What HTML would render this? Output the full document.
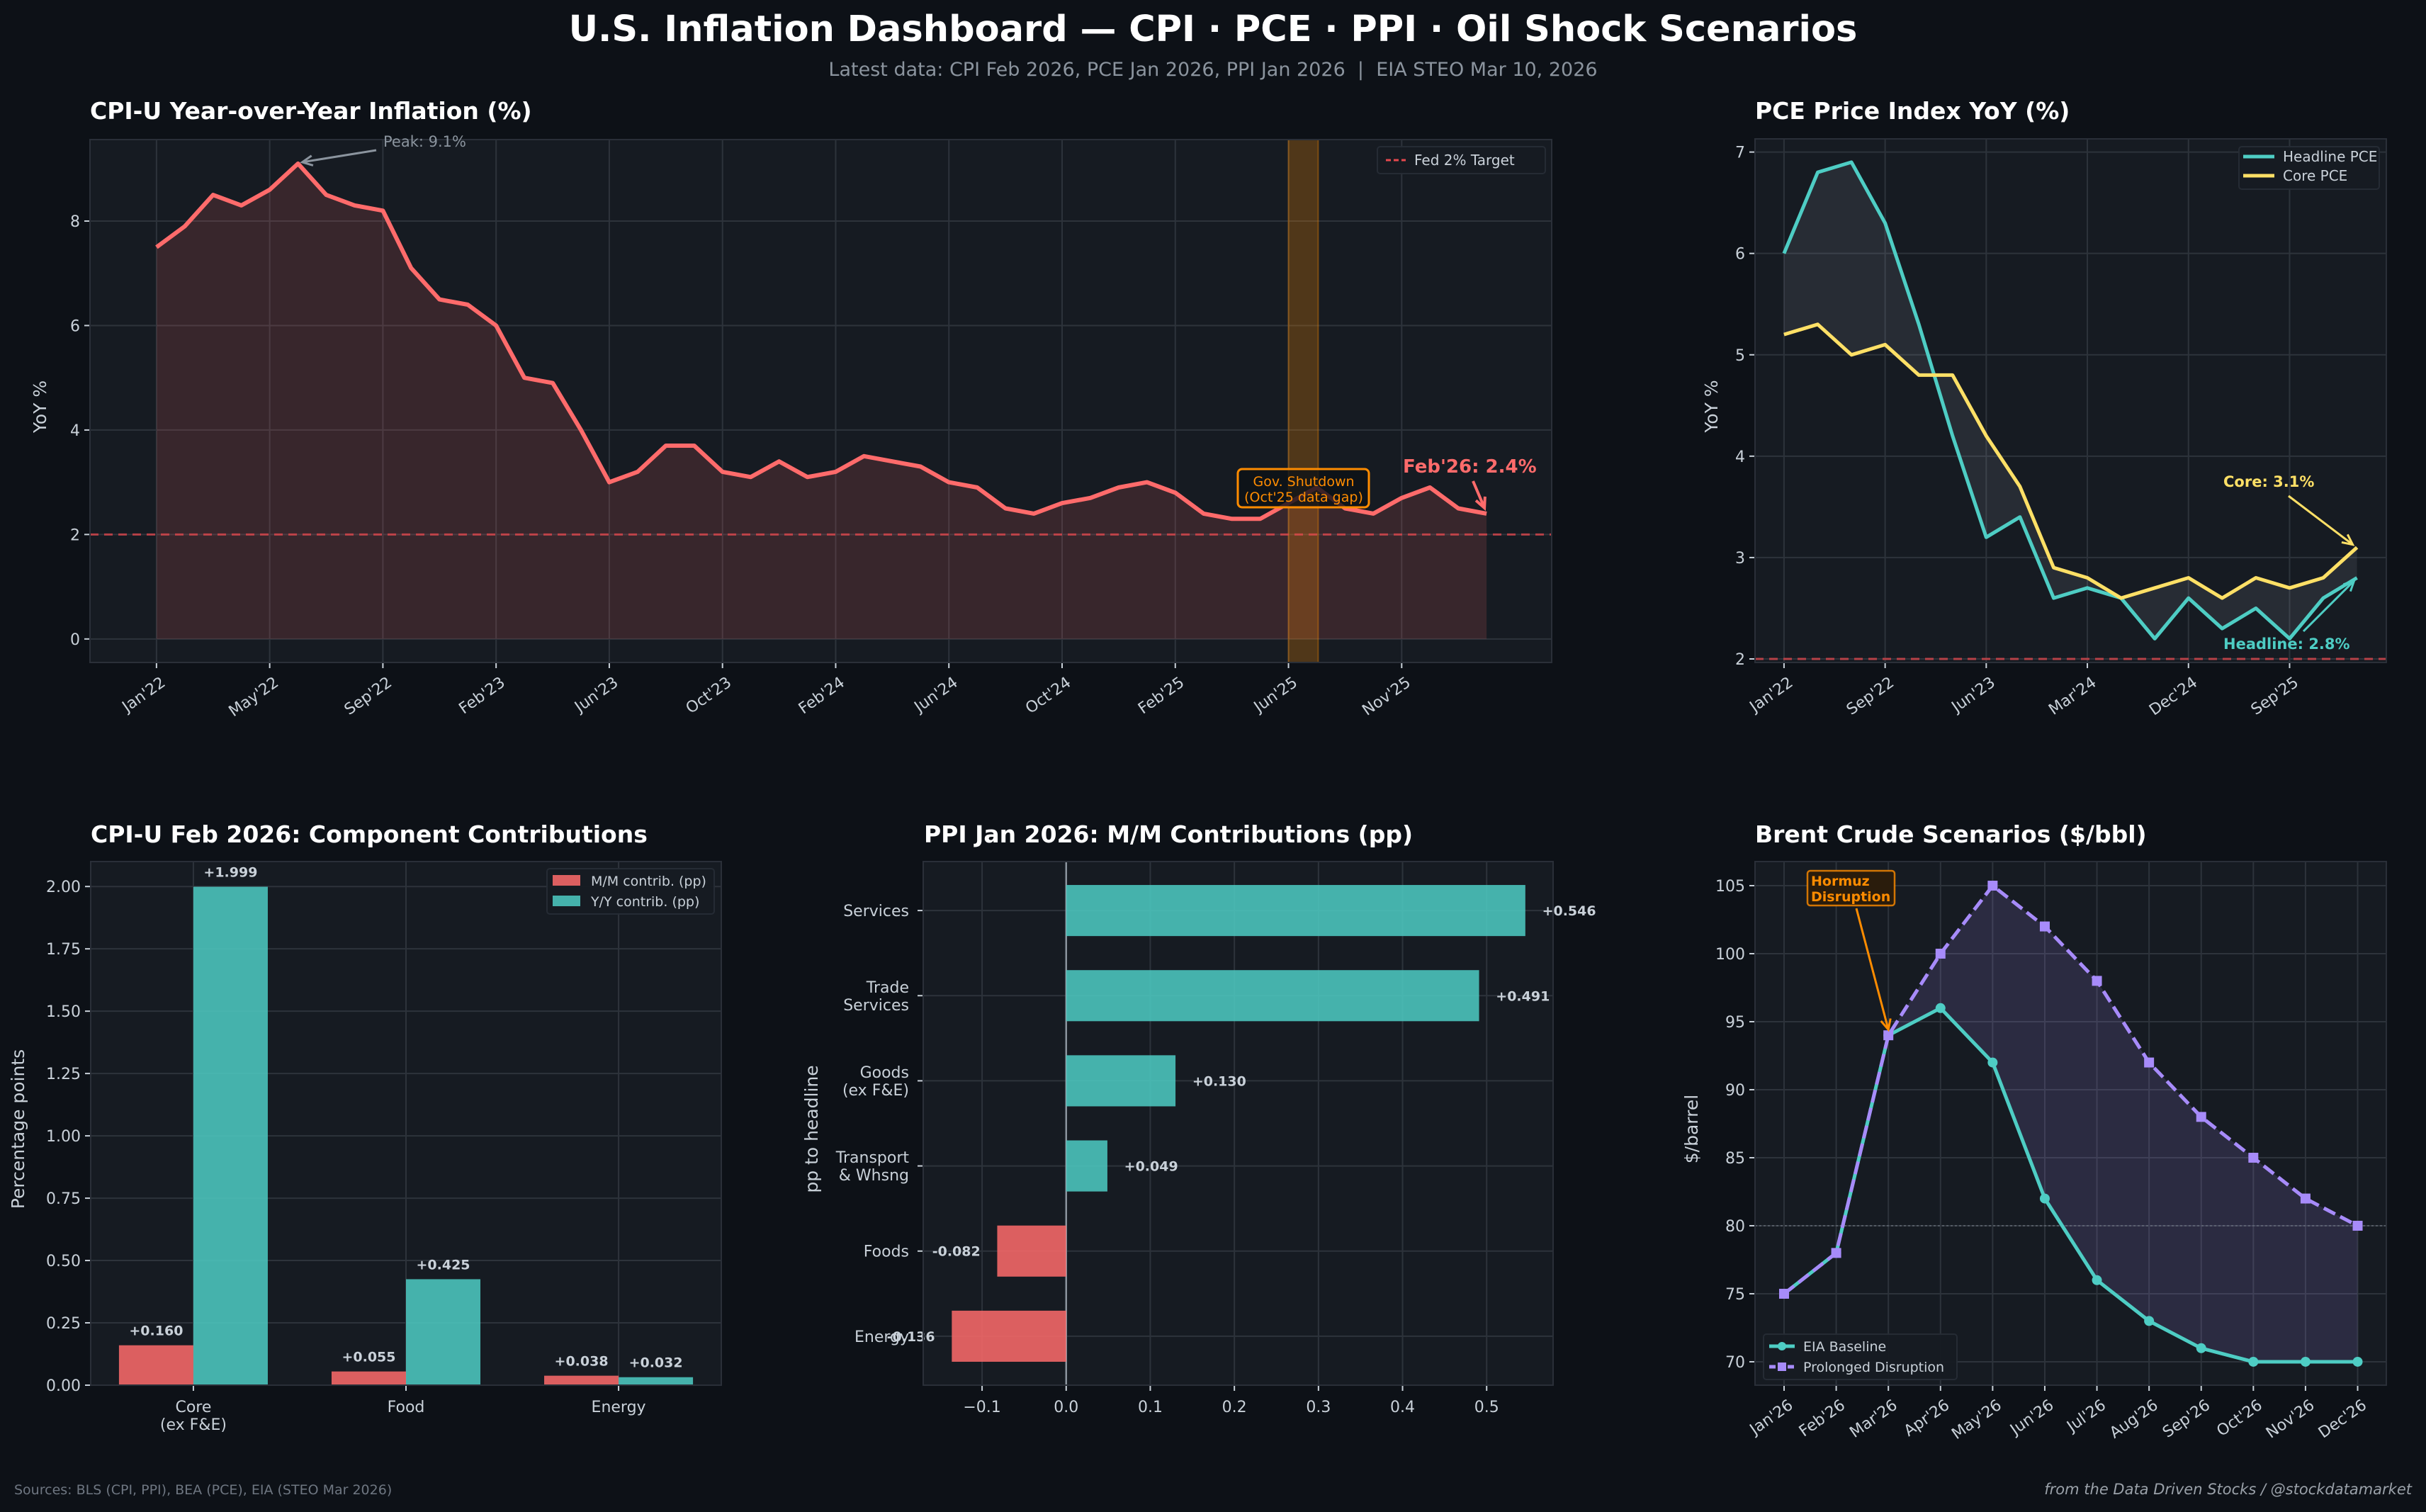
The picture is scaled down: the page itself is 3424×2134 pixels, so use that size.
<!DOCTYPE html>
<html><head><meta charset="utf-8"><title>U.S. Inflation Dashboard</title>
<style>
html,body{margin:0;padding:0;background:#0d1117;}
svg{display:block;font-family:"DejaVu Sans","Liberation Sans",sans-serif;}
</style></head>
<body>
<svg id="root" xmlns="http://www.w3.org/2000/svg" width="3424" height="2134" viewBox="0 0 3424 2134">
<rect x="0" y="0" width="3424" height="2134" fill="#0d1117"/>
<text x="1712" y="58" text-anchor="middle" font-size="51" font-weight="bold" fill="#ffffff">U.S. Inflation Dashboard — CPI · PCE · PPI · Oil Shock Scenarios</text>
<text x="1712" y="107" text-anchor="middle" font-size="27" fill="#8b949e">Latest data: CPI Feb 2026, PCE Jan 2026, PPI Jan 2026 &#160;|&#160; EIA STEO Mar 10, 2026</text>
<text x="20" y="2109" font-size="19" fill="#6e7681">Sources: BLS (CPI, PPI), BEA (PCE), EIA (STEO Mar 2026)</text>
<text x="3404" y="2109" text-anchor="end" font-size="21" font-style="italic" fill="#9aa1a9">from the Data Driven Stocks / @stockdatamarket</text>
<text x="127" y="168" font-size="33" font-weight="bold" fill="#ffffff">CPI-U Year-over-Year Inflation (%)</text>
<text x="2477" y="168" font-size="33" font-weight="bold" fill="#ffffff">PCE Price Index YoY (%)</text>
<text x="128" y="1189" font-size="33" font-weight="bold" fill="#ffffff">CPI-U Feb 2026: Component Contributions</text>
<text x="1304" y="1189" font-size="33" font-weight="bold" fill="#ffffff">PPI Jan 2026: M/M Contributions (pp)</text>
<text x="2477" y="1189" font-size="33" font-weight="bold" fill="#ffffff">Brent Crude Scenarios ($/bbl)</text>
</svg>
<script>
// ---------- DATA ----------
const cpiTickLabels = ["Jan'22","May'22","Sep'22","Feb'23","Jun'23","Oct'23","Feb'24","Jun'24","Oct'24","Feb'25","Jun'25","Nov'25"];
const cpiValues = [7.5,7.9,8.5,8.3,8.6,9.1,8.5,8.3,8.2,7.1,6.5,6.4,6.0,5.0,4.9,4.0,3.0,3.2,3.7,3.7,3.2,3.1,3.4,3.1,3.2,3.5,3.4,3.3,3.0,2.9,2.5,2.4,2.6,2.7,2.9,3.0,2.8,2.4,2.3,2.3,2.6,2.9,2.5,2.4,2.7,2.9,2.5,2.4];
const cpiYTicks = [0,2,4,6,8];
const fedTarget = 2;

const pceTickLabels = ["Jan'22","Sep'22","Jun'23","Mar'24","Dec'24","Sep'25"];
const pceHeadline = [6.0,6.8,6.9,6.3,5.3,4.2,3.2,3.4,2.6,2.7,2.6,2.2,2.6,2.3,2.5,2.2,2.6,2.8];
const pceCore = [5.2,5.3,5.0,5.1,4.8,4.8,4.2,3.7,2.9,2.8,2.6,2.7,2.8,2.6,2.8,2.7,2.8,3.1];
const pceYTicks = [2,3,4,5,6,7];

const compCategories = [["Core","(ex F&E)"],["Food"],["Energy"]];
const compMM = [0.160,0.055,0.038];
const compYY = [1.999,0.425,0.032];
const compYTicks = [0,0.25,0.5,0.75,1.0,1.25,1.5,1.75,2.0];

const ppiCategories = [["Energy"],["Foods"],["Transport","& Whsng"],["Goods","(ex F&E)"],["Trade","Services"],["Services"]];
const ppiValues = [-0.136,-0.082,0.049,0.130,0.491,0.546];
const ppiXTicks = [-0.1,0,0.1,0.2,0.3,0.4,0.5];

const brentMonths = ["Jan'26","Feb'26","Mar'26","Apr'26","May'26","Jun'26","Jul'26","Aug'26","Sep'26","Oct'26","Nov'26","Dec'26"];
const brentBaseline = [75,78,94,96,92,82,76,73,71,70,70,70];
const brentDisruption = [75,78,94,100,105,102,98,92,88,85,82,80];
const brentYTicks = [70,75,80,85,90,95,100,105];

// ---------- HELPERS ----------
const NS = "http://www.w3.org/2000/svg";
const root = document.getElementById('root');
function mk(tag, attrs, parent) {
  const e = document.createElementNS(NS, tag);
  for (const k in attrs) e.setAttribute(k, attrs[k]);
  (parent || root).appendChild(e);
  return e;
}
function axis(L,R,T,B,x0,x1,y0,y1){
  return {L,R,T,B,sx:v=>L+(v-x0)/(x1-x0)*(R-L),sy:v=>B-(v-y0)/(y1-y0)*(B-T)};
}
const GRID = "#2d333b", TICK = "#c9d1d9", FS = 22;
function frame(a, name){
  const r = mk('rect',{x:a.L,y:a.T,width:a.R-a.L,height:a.B-a.T,fill:'#161b22'});
  
  
}
function border(a, name){
  const r = mk('rect',{x:a.L,y:a.T,width:a.R-a.L,height:a.B-a.T,fill:'none',stroke:'#2a2f38','stroke-width':2});
  
  
}
function yGrid(a, ticks, fmt, name){
  ticks.forEach(v=>{
    const y=a.sy(v);
    const g=mk('line',{x1:a.L,x2:a.R,y1:y,y2:y,stroke:GRID,'stroke-width':2});
    
    
    mk('line',{x1:a.L-8,x2:a.L,y1:y,y2:y,stroke:TICK,'stroke-width':2});
    const t=mk('text',{x:a.L-14,y:y+8,'text-anchor':'end','font-size':FS,fill:TICK});
    t.textContent=fmt(v);
    
    
  });
}
function xGridRot(a, positions, labels, name){
  positions.forEach((x,i)=>{
    const g=mk('line',{x1:x,x2:x,y1:a.T,y2:a.B,stroke:GRID,'stroke-width':2});
    
    
    mk('line',{x1:x,x2:x,y1:a.B,y2:a.B+8,stroke:TICK,'stroke-width':2});
    const ty=a.B+20;
    const t=mk('text',{x:x+6,y:ty+14,'text-anchor':'end','font-size':FS,fill:TICK,transform:`rotate(-35 ${x+6} ${ty})`});
    t.textContent=labels[i];
    
    
  });
}
function yLabel(x, yc, txt, name){
  const t=mk('text',{x:x,y:yc,'text-anchor':'middle','font-size':25,fill:'#c9d1d9',transform:`rotate(-90 ${x} ${yc})`});
  t.textContent=txt;
  
  
}
function path(pts){return pts.map((p,i)=>(i?'L':'M')+p[0].toFixed(1)+','+p[1].toFixed(1)).join(' ');}
function arrow(x1,y1,x2,y2,color,w,name){
  const ln=mk('line',{x1,y1,x2,y2,stroke:color,'stroke-width':w});
  
  
  const ang=Math.atan2(y2-y1,x2-x1), L=16, S=0.45;
  const p1=[x2-L*Math.cos(ang-S),y2-L*Math.sin(ang-S)], p2=[x2-L*Math.cos(ang+S),y2-L*Math.sin(ang+S)];
  mk('polyline',{points:`${p1} ${x2},${y2} ${p2}`,fill:'none',stroke:color,'stroke-width':w});
}
function legendBox(x,y,w,h,name){
  const r=mk('rect',{x,y,width:w,height:h,rx:4,fill:'#161b22',stroke:'#262c35','stroke-width':2,opacity:0.95});
  
  
}
function txt(x,y,s,attrs,name){
  const t=mk('text',Object.assign({x,y},attrs));
  t.textContent=s;
  
  
  return t;
}

// ---------- CPI PANEL ----------
(function(){
  const a=axis(127,2190,197,935,-2.35,49.3,-0.45,9.56);
  frame(a,'cpi');
  xGridRot(a, cpiTickLabels.map((_,i)=>a.sx(i*4)), cpiTickLabels, 'cpi');
  yGrid(a, cpiYTicks, v=>String(v), 'cpi');
  const pts=cpiValues.map((v,i)=>[a.sx(i),a.sy(v)]);
  const fill=mk('path',{d:path(pts)+` L${a.sx(cpiValues.length-1)},${a.sy(0)} L${a.sx(0)},${a.sy(0)} Z`,fill:'#ff6b6b','fill-opacity':0.15});
  
  
  const band=mk('rect',{x:a.sx(40),y:a.T,width:a.sx(41.05)-a.sx(40),height:a.B-a.T,fill:'#ff8c00','fill-opacity':0.25,stroke:'#ff8c00','stroke-opacity':0.35,'stroke-width':2});
  
  
  const fed=mk('line',{x1:a.L,x2:a.R,y1:a.sy(fedTarget),y2:a.sy(fedTarget),stroke:'#e5484d','stroke-opacity':0.75,'stroke-width':3,'stroke-dasharray':'12 8'});
  
  
  const line=mk('path',{d:path(pts),fill:'none',stroke:'#ff6b6b','stroke-width':6,'stroke-linejoin':'round'});
  
  
  border(a,'cpi');
  yLabel(65, (a.T+a.B)/2+8, 'YoY %', 'cpi-y-axis-title');
  const pk=cpiValues.indexOf(Math.max(...cpiValues));
  arrow(531,212,a.sx(pk)+6,a.sy(cpiValues[pk])-2,'#8b949e',3,'peak-arrow');
  txt(541,207,'Peak: '+Math.max(...cpiValues)+'%',{'font-size':21,fill:'#8b949e'},'peak-annotation');
  const sb=mk('rect',{x:1747,y:662,width:185,height:54,rx:6,fill:'#0d1117','fill-opacity':0.8,stroke:'#ff8c00','stroke-width':3});
  
  
  txt(1840,686,'Gov. Shutdown',{'font-size':19,fill:'#ff8c00','text-anchor':'middle'},'shutdown-annotation-line1');
  txt(1840,708,"(Oct'25 data gap)",{'font-size':19,fill:'#ff8c00','text-anchor':'middle'},'shutdown-annotation-line2');
  const li=cpiValues.length-1;
  arrow(2079,679,a.sx(li)-3,a.sy(cpiValues[li])-8,'#ff6b6b',4,'latest-cpi-arrow');
  txt(1980,667,"Feb'26: "+cpiValues[li]+'%',{'font-size':26,'font-weight':'bold',fill:'#ff6b6b'},'latest-cpi-annotation');
  legendBox(1944,207,237,38,'cpi-legend');
  const ll=mk('line',{x1:1956,x2:1984,y1:226,y2:226,stroke:'#e5484d','stroke-width':3,'stroke-dasharray':'7 4'});
  
  
  txt(1996,233,'Fed 2% Target',{'font-size':20,fill:'#c9d1d9'},'legend-fed-target');
})();

// ---------- PCE PANEL ----------
(function(){
  const a=axis(2477,3368,196,935,-0.86,17.87,1.965,7.13);
  frame(a,'pce');
  xGridRot(a, pceTickLabels.map((_,i)=>a.sx(i*3)), pceTickLabels, 'pce');
  yGrid(a, pceYTicks, v=>String(v), 'pce');
  const h=pceHeadline.map((v,i)=>[a.sx(i),a.sy(v)]);
  const c=pceCore.map((v,i)=>[a.sx(i),a.sy(v)]);
  const f=mk('path',{d:path(h)+' '+path(c.slice().reverse()).replace('M','L')+' Z',fill:'#8b949e','fill-opacity':0.15});
  
  
  const fed=mk('line',{x1:a.L,x2:a.R,y1:a.sy(2),y2:a.sy(2),stroke:'#e5484d','stroke-opacity':0.75,'stroke-width':3,'stroke-dasharray':'12 8'});
  
  
  const hl=mk('path',{d:path(h),fill:'none',stroke:'#4ecdc4','stroke-width':5,'stroke-linejoin':'round'});
  
  
  const cl=mk('path',{d:path(c),fill:'none',stroke:'#ffe066','stroke-width':5,'stroke-linejoin':'round'});
  
  
  border(a,'pce');
  yLabel(2424,(a.T+a.B)/2+8,'YoY %','pce-y-axis-title');
  const n=pceCore.length-1;
  arrow(3230,700,a.sx(n)-6,a.sy(pceCore[n])-4,'#ffe066',3,'core-pce-arrow');
  txt(3138,687,'Core: '+pceCore[n].toFixed(1)+'%',{'font-size':21,'font-weight':'bold',fill:'#ffe066'},'core-pce-annotation');
  arrow(3251,891,a.sx(n)-4,a.sy(pceHeadline[n])+4,'#4ecdc4',3,'headline-pce-arrow');
  txt(3138,916,'Headline: '+pceHeadline[n].toFixed(1)+'%',{'font-size':21,'font-weight':'bold',fill:'#4ecdc4'},'headline-pce-annotation');
  legendBox(3160,207,198,60,'pce-legend');
  mk('line',{x1:3166,x2:3210,y1:221,y2:221,stroke:'#4ecdc4','stroke-width':5});
  txt(3222,228,'Headline PCE',{'font-size':20,fill:'#c9d1d9'},'legend-headline-pce');
  mk('line',{x1:3166,x2:3210,y1:248,y2:248,stroke:'#ffe066','stroke-width':5});
  txt(3222,255,'Core PCE',{'font-size':20,fill:'#c9d1d9'},'legend-core-pce');
})();

// ---------- COMPONENTS BAR PANEL ----------
(function(){
  const a=axis(128,1018,1216,1955,-0.483,2.483,0,2.1);
  frame(a,'components');
  compCategories.forEach((c,i)=>{
    const x=a.sx(i);
    const g=mk('line',{x1:x,x2:x,y1:a.T,y2:a.B,stroke:GRID,'stroke-width':2});
    
    
    mk('line',{x1:x,x2:x,y1:a.B,y2:a.B+8,stroke:TICK,'stroke-width':2});
    c.forEach((s,j)=>txt(x,a.B+38+j*25,s,{'font-size':FS,fill:TICK,'text-anchor':'middle'},'components-category-label'));
  });
  yGrid(a, compYTicks, v=>v.toFixed(2), 'components');
  const bw=0.35;
  compCategories.forEach((c,i)=>{
    const x0=a.sx(i-bw), x1=a.sx(i), x2=a.sx(i+bw);
    const r1=mk('rect',{x:x0,y:a.sy(compMM[i]),width:x1-x0,height:a.sy(0)-a.sy(compMM[i]),fill:'#ff6b6b','fill-opacity':0.85});
    
    
    const r2=mk('rect',{x:x1,y:a.sy(compYY[i]),width:x2-x1,height:a.sy(0)-a.sy(compYY[i]),fill:'#4ecdc4','fill-opacity':0.85});
    
    
    txt((x0+x1)/2,a.sy(compMM[i])-14,'+'+compMM[i].toFixed(3),{'font-size':19,'font-weight':'bold',fill:'#c9d1d9','text-anchor':'middle'},'mm-bar-value-label');
    txt((x1+x2)/2,a.sy(compYY[i])-14,'+'+compYY[i].toFixed(3),{'font-size':19,'font-weight':'bold',fill:'#c9d1d9','text-anchor':'middle'},'yy-bar-value-label');
  });
  border(a,'components');
  yLabel(34,(a.T+a.B)/2+8,'Percentage points','components-y-axis-title');
  legendBox(772,1226,236,64,'components-legend');
  mk('rect',{x:780,y:1235,width:39,height:15,fill:'#ff6b6b','fill-opacity':0.85});
  txt(834,1250,'M/M contrib. (pp)',{'font-size':19,fill:'#c9d1d9'},'legend-mm-contrib');
  mk('rect',{x:780,y:1264,width:39,height:15,fill:'#4ecdc4','fill-opacity':0.85});
  txt(834,1279,'Y/Y contrib. (pp)',{'font-size':19,fill:'#c9d1d9'},'legend-yy-contrib');
})();

// ---------- PPI PANEL ----------
(function(){
  const a=axis(1303,2192,1216,1955,-0.170,0.579,-0.575,5.575);
  frame(a,'ppi');
  ppiXTicks.forEach(v=>{
    const x=a.sx(v);
    const g=mk('line',{x1:x,x2:x,y1:a.T,y2:a.B,stroke:GRID,'stroke-width':2});
    
    
    mk('line',{x1:x,x2:x,y1:a.B,y2:a.B+8,stroke:TICK,'stroke-width':2});
    txt(x,a.B+38,(v<0?'\u2212':'')+Math.abs(v).toFixed(1),{'font-size':FS,fill:TICK,'text-anchor':'middle'},'ppi-x-tick-label');
  });
  ppiCategories.forEach((c,i)=>{
    const y=a.sy(i);
    const g=mk('line',{x1:a.L,x2:a.R,y1:y,y2:y,stroke:GRID,'stroke-width':2});
    
    
    mk('line',{x1:a.L-8,x2:a.L,y1:y,y2:y,stroke:TICK,'stroke-width':2});
    const off=(c.length-1)*12.5;
    c.forEach((s,j)=>txt(a.L-20,y+8-off+j*25,s,{'font-size':FS,fill:TICK,'text-anchor':'end'},'ppi-category-label'));
  });
  const zl=mk('line',{x1:a.sx(0),x2:a.sx(0),y1:a.T,y2:a.B,stroke:'#8b949e','stroke-width':2.5});
  
  
  const bh=0.6;
  ppiValues.forEach((v,i)=>{
    const x0=a.sx(Math.min(0,v)), x1=a.sx(Math.max(0,v));
    const r=mk('rect',{x:x0,y:a.sy(i+bh/2),width:x1-x0,height:a.sy(i-bh/2)-a.sy(i+bh/2),fill:v<0?'#ff6b6b':'#4ecdc4','fill-opacity':0.85});
    
    
    const lx=v<0?a.sx(v-0.02):a.sx(v+0.02);
    txt(lx,a.sy(i)+7,(v<0?'':'+')+v.toFixed(3),{'font-size':19,'font-weight':'bold',fill:'#c9d1d9','text-anchor':v<0?'end':'start'},'ppi-bar-value-label');
  });
  border(a,'ppi');
  yLabel(1154,(a.T+a.B)/2+8,'pp to headline','ppi-y-axis-title');
})();

// ---------- BRENT PANEL ----------
(function(){
  const a=axis(2477,3368,1216,1955,-0.557,11.55,68.28,106.77);
  frame(a,'brent');
  xGridRot(a, brentMonths.map((_,i)=>a.sx(i)), brentMonths, 'brent');
  yGrid(a, brentYTicks, v=>String(v), 'brent');
  const b=brentBaseline.map((v,i)=>[a.sx(i),a.sy(v)]);
  const d=brentDisruption.map((v,i)=>[a.sx(i),a.sy(v)]);
  const f=mk('path',{d:path(d)+' '+path(b.slice().reverse()).replace('M','L')+' Z',fill:'#a78bfa','fill-opacity':0.15});
  
  
  const ref=mk('line',{x1:a.L,x2:a.R,y1:a.sy(80),y2:a.sy(80),stroke:'#6e7681','stroke-width':2,'stroke-dasharray':'3 3','stroke-opacity':0.6});
  
  
  const bl=mk('path',{d:path(b),fill:'none',stroke:'#4ecdc4','stroke-width':5,'stroke-linejoin':'round'});
  
  
  b.forEach(p=>{
    const m=mk('circle',{cx:p[0],cy:p[1],r:7,fill:'#4ecdc4'});
    
    
  });
  const dl=mk('path',{d:path(d),fill:'none',stroke:'#a78bfa','stroke-width':5,'stroke-dasharray':'18 8','stroke-linejoin':'round'});
  
  
  d.forEach(p=>{
    const m=mk('rect',{x:p[0]-7,y:p[1]-7,width:14,height:14,fill:'#a78bfa'});
    
    
  });
  border(a,'brent');
  yLabel(2396,(a.T+a.B)/2+8,'$/barrel','brent-y-axis-title');
  const hb=mk('rect',{x:2551,y:1229,width:123,height:49,rx:4,fill:'#2a1c0c',stroke:'#ff8c00','stroke-width':2.5,'stroke-opacity':0.8});
  
  
  txt(2556,1250,'Hormuz',{'font-size':19,'font-weight':'bold',fill:'#ff8c00'},'hormuz-annotation-line1');
  txt(2556,1272,'Disruption',{'font-size':19,'font-weight':'bold',fill:'#ff8c00'},'hormuz-annotation-line2');
  arrow(2620,1282,a.sx(2),a.sy(brentDisruption[2])-8,'#ff8c00',3,'hormuz-arrow');
  legendBox(2489,1883,273,64,'brent-legend');
  mk('line',{x1:2497,x2:2533,y1:1900,y2:1900,stroke:'#4ecdc4','stroke-width':5});
  mk('circle',{cx:2515,cy:1900,r:6,fill:'#4ecdc4'});
  txt(2545,1907,'EIA Baseline',{'font-size':19,fill:'#c9d1d9'},'legend-eia-baseline');
  mk('line',{x1:2497,x2:2533,y1:1929,y2:1929,stroke:'#a78bfa','stroke-width':5,'stroke-dasharray':'9 4'});
  mk('rect',{x:2509,y:1923,width:12,height:12,fill:'#a78bfa'});
  txt(2545,1936,'Prolonged Disruption',{'font-size':19,fill:'#c9d1d9'},'legend-prolonged-disruption');
})();
</script>
</body></html>
